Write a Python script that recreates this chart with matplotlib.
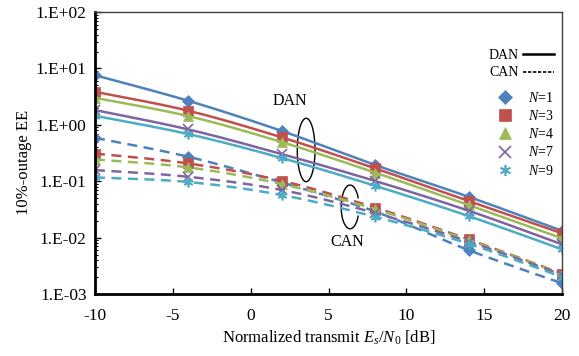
import numpy as np
import matplotlib
matplotlib.use("Agg")
import matplotlib.pyplot as plt
from matplotlib.lines import Line2D
from matplotlib.patches import Ellipse, Arc

plt.rcParams['font.family'] = ['Liberation Serif', 'DejaVu Serif']
plt.rcParams['mathtext.fontset'] = 'custom'
plt.rcParams['mathtext.rm'] = 'Liberation Serif'
plt.rcParams['mathtext.it'] = 'Liberation Serif:italic'
plt.rcParams['axes.unicode_minus'] = False

snr_db = [-10, -4, 2, 8, 14, 20]
n_labels = ["1", "3", "4", "7", "9"]

dan_n1 = [7.6, 2.67, 0.78, 0.194, 0.053, 0.0132]
dan_n3 = [3.86, 1.78, 0.60, 0.169, 0.0446, 0.0119]
dan_n4 = [3.02, 1.43, 0.495, 0.142, 0.0378, 0.0097]
dan_n7 = [1.83, 0.83, 0.303, 0.101, 0.030, 0.0076]
dan_n9 = [1.45, 0.687, 0.258, 0.083, 0.0241, 0.0062]

can_n1 = [0.59, 0.272, 0.095, 0.029, 0.0060, 0.00155]
can_n3 = [0.31, 0.207, 0.102, 0.034, 0.0093, 0.0023]
can_n4 = [0.244, 0.176, 0.089, 0.032, 0.0090, 0.0023]
can_n7 = [0.158, 0.12, 0.070, 0.0273, 0.0085, 0.0022]
can_n9 = [0.117, 0.097, 0.057, 0.0234, 0.0078, 0.0020]

dan_all = [dan_n1, dan_n3, dan_n4, dan_n7, dan_n9]
can_all = [can_n1, can_n3, can_n4, can_n7, can_n9]

colors = ['#4F81BD', '#C0504D', '#9BBB59', '#8064A2', '#4BACC6']
markers = ['D', 's', '^', 'x', (6, 2, 0)]
msizes = [6, 7, 7, 7, 7]


def mew_for(m):
    return 1.2 if (m == 'x' or isinstance(m, tuple)) else 0.5


def smooth(x, y, n=30):
    """Catmull-Rom curve through the points (in log-y space), like Excel's smoothed line."""
    x = np.asarray(x, float)
    ly = np.log10(np.asarray(y, float))
    P = np.column_stack([x, ly])
    P = np.vstack([P[0], P, P[-1]])
    out = []
    for i in range(1, len(P) - 2):
        p0, p1, p2, p3 = P[i - 1], P[i], P[i + 1], P[i + 2]
        t = np.linspace(0, 1, n)[:, None]
        seg = 0.5 * ((2 * p1) + (-p0 + p2) * t + (2 * p0 - 5 * p1 + 4 * p2 - p3) * t ** 2
                     + (-p0 + 3 * p1 - 3 * p2 + p3) * t ** 3)
        out.append(seg)
    S = np.vstack(out)
    return S[:, 0], 10 ** S[:, 1]


fig = plt.figure(figsize=(5.79, 3.56), dpi=100)
ax = fig.add_axes([0.164, 0.174, 0.807, 0.792])

for vals, c, m, ms in zip(can_all, colors, markers, msizes):
    sx, sy = smooth(snr_db, vals)
    ax.plot(sx, sy, color=c, lw=1.8, ls=(0, (4, 2.6)))
    ax.plot(snr_db, vals, ls='none', marker=m, color=c, ms=ms, mew=mew_for(m))

for vals, c, m, ms in zip(dan_all, colors, markers, msizes):
    sx, sy = smooth(snr_db, vals)
    ax.plot(sx, sy, color=c, lw=1.8)
    ax.plot(snr_db, vals, ls='none', marker=m, color=c, ms=ms, mew=mew_for(m))

ax.set_yscale('log')
ax.set_xlim(-10, 20)
ax.set_ylim(1e-3, 1e2)
ax.set_xticks([-10, -5, 0, 5, 10, 15, 20])
ax.set_yticks([1e-3, 1e-2, 1e-1, 1e0, 1e1, 1e2])
ax.set_yticklabels(['1.E-03', '1.E-02', '1.E-01', '1.E+00', '1.E+01', '1.E+02'])
ax.tick_params(axis='both', which='major', direction='in', labelsize=12.5, length=4, width=1)
ax.tick_params(axis='y', which='minor', direction='in', length=2, width=0.8)
ax.tick_params(axis='x', which='major', pad=10)
ax.tick_params(axis='y', which='major', pad=6)
ax.tick_params(top=False, right=False)

for s in ['left', 'bottom']:
    ax.spines[s].set_linewidth(2)
    ax.spines[s].set_color('black')
for s in ['top', 'right']:
    ax.spines[s].set_linewidth(1)
    ax.spines[s].set_color('#404040')

ax.set_ylabel('10%-outage EE', fontsize=12)
ax.yaxis.set_label_coords(-0.135, 0.466)
ax.set_xlabel(r'Normalized transmit $E_s/N_0$ [dB]', fontsize=12, labelpad=3)

# annotations
ax.text(0.418, 0.684, 'DAN', transform=ax.transAxes, fontsize=11.5, ha='center', va='center')
ax.add_patch(Ellipse((0.452, 0.511), 0.038, 0.225, transform=ax.transAxes,
                     fill=False, ec='black', lw=1))
ax.add_patch(Arc((0.546, 0.309), 0.038, 0.155, transform=ax.transAxes,
                 theta1=60, theta2=300, ec='black', lw=1))
ax.text(0.541, 0.184, 'CAN', transform=ax.transAxes, fontsize=11.5, ha='center', va='center')

# legends
h1 = [Line2D([], [], color='black', lw=1.8), Line2D([], [], color='black', lw=1.2, ls=(0, (2, 1)))]
leg1 = ax.legend(h1, ['DAN', 'CAN'], loc='upper right', bbox_to_anchor=(1.0, 0.9),
                 frameon=False, markerfirst=False, fontsize=10, handlelength=2.2,
                 handletextpad=0.3, labelspacing=0.35, borderaxespad=0.2)
ax.add_artist(leg1)
h2 = [Line2D([], [], ls='none', marker=m, color=c, ms=ms + 1, mew=mew_for(m))
      for c, m, ms in zip(colors, markers, msizes)]
lab2 = [r'$\it{N}$=' + n for n in n_labels]
ax.legend(h2, lab2, loc='upper right', bbox_to_anchor=(1.0, 0.75), frameon=False,
          fontsize=10, handlelength=1.5, handletextpad=0.9, labelspacing=0.3, borderaxespad=0.2)

fig.savefig('out.png', dpi=100)
